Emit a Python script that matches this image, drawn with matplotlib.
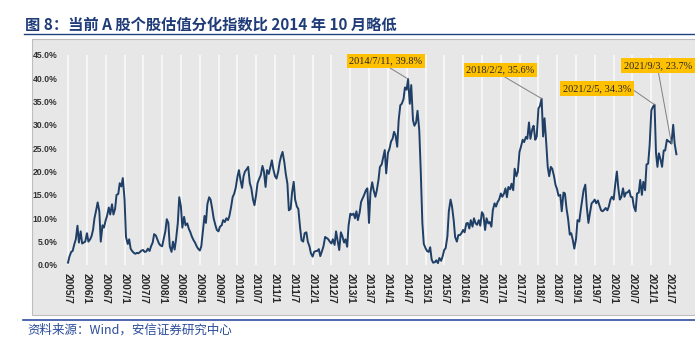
import matplotlib
matplotlib.use('Agg')
import matplotlib.pyplot as plt
from matplotlib.patches import Rectangle
from matplotlib.lines import Line2D
import numpy as np
import pandas as pd

# semi-monthly readings (1st and 15th of each month), % of stocks
v2005 = [0.5, 1.8, 2.8, 3.0, 4.5, 5.5, 8.4, 4.8, 7.2, 4.6, 4.8, 5.0]
v2006 = [6.8, 5.0, 5.5, 6.2, 7.5, 10.0, 11.8, 13.4, 11.5, 5.0, 8.5, 8.0,
         9.5, 10.5, 12.3, 10.8, 13.0, 10.8, 12.0, 15.0, 15.2, 17.5, 16.8, 18.6]
v2007 = [14.0, 6.0, 4.5, 5.5, 3.5, 3.0, 2.6, 2.4, 2.6, 2.5, 2.8, 3.1,
         3.2, 2.8, 2.9, 3.5, 3.0, 4.0, 4.8, 6.6, 6.3, 5.5, 4.6, 4.2]
v2008 = [4.0, 5.5, 7.2, 9.8, 9.0, 4.0, 2.8, 5.0, 3.3, 5.5, 9.0, 14.5,
         12.5, 8.0, 10.3, 8.5, 8.9, 7.8, 7.0, 6.1, 5.3, 4.8, 4.0, 3.5]
v2009 = [3.1, 4.0, 7.5, 10.5, 9.0, 13.0, 14.5, 14.0, 12.0, 10.0, 8.5, 7.5,
         7.2, 8.2, 8.5, 9.6, 9.2, 10.0, 9.6, 10.5, 12.5, 14.5, 15.3, 16.5]
v2010 = [18.9, 20.3, 18.0, 16.5, 19.0, 20.0, 20.5, 21.0, 17.5, 16.5, 14.0, 12.8,
         15.0, 17.5, 18.5, 19.2, 21.2, 20.0, 16.7, 20.3, 19.5, 20.8, 22.4, 20.5]
v2011 = [19.0, 18.5, 20.0, 22.0, 23.3, 24.2, 22.0, 19.5, 17.4, 11.7, 12.0, 15.5,
         17.8, 14.0, 12.5, 12.0, 8.0, 5.3, 5.0, 6.8, 7.0, 5.0, 4.0, 2.5]
v2012 = [1.8, 2.8, 3.0, 3.0, 3.4, 1.9, 3.0, 4.0, 6.0, 5.8, 5.5, 5.0,
         4.6, 5.5, 4.3, 7.2, 5.0, 3.2, 7.0, 6.2, 4.8, 5.5, 3.9, 8.5]
v2013 = [11.0, 10.7, 11.0, 10.0, 11.5, 9.6, 11.2, 13.5, 14.3, 15.0, 16.0, 16.4,
         9.0, 15.5, 17.7, 16.0, 14.6, 16.0, 18.2, 21.0, 21.5, 23.0, 24.6, 19.6]
v2014 = [24.0, 24.8, 26.5, 27.0, 28.5, 27.8, 25.3, 31.0, 34.2, 34.5, 35.5, 38.0,
         37.5, 39.8, 34.5, 38.5, 31.0, 29.8, 30.5, 33.0, 28.8, 20.3, 9.0, 4.5]
v2015 = [3.6, 3.0, 2.8, 3.8, 1.2, 0.5, 0.6, 1.0, 0.4, 1.5, 0.9, 1.8,
         3.2, 3.6, 6.1, 11.5, 14.0, 12.5, 9.6, 6.0, 5.0, 6.4, 6.4, 6.8]
v2016 = [7.5, 7.0, 8.9, 9.0, 7.8, 9.6, 8.2, 10.0, 8.9, 8.6, 9.6, 8.4,
         11.3, 10.8, 7.5, 10.0, 8.9, 9.2, 8.2, 11.7, 13.2, 12.5, 13.5, 14.0]
v2017 = [15.3, 14.6, 15.3, 16.4, 14.5, 16.7, 16.2, 17.4, 16.0, 20.6, 19.0, 20.0,
         24.2, 25.3, 26.8, 26.3, 27.4, 27.0, 30.5, 27.0, 29.0, 29.8, 26.8, 27.5]
v2018 = [33.5, 34.0, 35.6, 27.5, 31.4, 27.0, 21.0, 19.0, 21.0, 20.6, 19.0, 17.2,
         16.2, 14.8, 15.0, 11.5, 15.5, 15.3, 12.0, 10.0, 6.5, 6.8, 5.3, 3.5]
v2019 = [5.6, 9.6, 9.3, 11.7, 13.9, 16.0, 17.2, 12.5, 9.0, 11.0, 13.2, 13.5,
         14.0, 13.2, 13.8, 12.8, 11.7, 11.5, 11.8, 12.2, 11.7, 12.5, 14.0, 14.6]
v2020 = [14.0, 17.0, 20.0, 16.5, 14.0, 14.5, 16.4, 14.6, 15.5, 15.5, 16.0, 14.6,
         14.5, 12.5, 11.5, 15.3, 15.5, 18.2, 15.0, 17.8, 16.0, 21.5, 21.7, 25.5]
v2021 = [33.1, 33.8, 34.3, 24.0, 21.0, 23.9, 22.5, 21.0, 24.5, 24.5, 26.8, 26.5,
         26.3, 26.0, 30.0, 26.0, 23.7]

values = (v2005 + v2006 + v2007 + v2008 + v2009 + v2010 + v2011 + v2012 + v2013
          + v2014 + v2015 + v2016 + v2017 + v2018 + v2019 + v2020 + v2021)
dates = pd.date_range('2005-07-01', periods=len(values), freq='SMS')
series = pd.Series(values, index=dates)

tick_labels = ['2005/7', '2006/1', '2006/7', '2007/1', '2007/7', '2008/1', '2008/7',
               '2009/1', '2009/7', '2010/1', '2010/7', '2011/1', '2011/7', '2012/1',
               '2012/7', '2013/1', '2013/7', '2014/1', '2014/7', '2015/1', '2015/7',
               '2016/1', '2016/7', '2017/1', '2017/7', '2018/1', '2018/7', '2019/1',
               '2019/7', '2020/1', '2020/7', '2021/1', '2021/7']
tick_dates = pd.date_range('2005-07-01', '2021-07-01', freq='6MS')

ann_labels = ['2014/7/11, 39.8%', '2018/2/2, 35.6%', '2021/2/5, 34.3%', '2021/9/3, 23.7%']
ann_dates = ['2014-07-15', '2018-02-01', '2021-02-01', '2021-07-15']

title = '图 8：当前 A 股个股估值分化指数比 2014 年 10 月略低'
source = '资料来源：Wind，安信证券研究中心'

W, H = 695, 346
fig = plt.figure(figsize=(W / 100, H / 100), dpi=100)

# grey panel behind the chart
fig.patches.append(Rectangle((32 / W, (H - 315) / H), (W - 30) / W, (315 - 39) / H,
                             transform=fig.transFigure, facecolor='#E7E7E7',
                             edgecolor='#BDBDBD', lw=0.8, zorder=-5))
fig.add_artist(Line2D([24 / W, 1], [(H - 34.3) / H] * 2, color='#1F3F7F', lw=1.0))
fig.add_artist(Line2D([23 / W, 1], [(H - 320) / H] * 2, color='#2E4F9F', lw=1.2))

fig.text(25 / W, (H - 25) / H, title, fontsize=11, fontweight='bold', color='#1F3C78',
         family=['Noto Sans CJK SC'], va='center')
fig.text(27 / W, (H - 330) / H, source, fontsize=9, color='#2B4C9B',
         family=['Noto Sans CJK SC'], va='center')

ax = fig.add_axes([60 / W, (H - 265) / H, 620 / W, (265 - 54.7) / H])
ax.set_facecolor('none')
ax.plot(series.index, series.values, color='#1F3F66', lw=1.4, zorder=3)

ax.set_ylim(0, 45)
yt = np.arange(0, 46, 5)
ax.set_yticks(yt)
ax.set_yticklabels([f'{v:.1f}%' for v in yt], fontsize=6.2, family='Liberation Sans',
                   fontweight='bold', color='#333333')

ax.set_xticks(tick_dates)
ax.set_xticklabels(tick_labels, rotation=270, fontsize=7.2, family='Liberation Sans',
                   fontweight='bold', color='#262626', ha='center', va='top')
px_day = 602 / (pd.Timestamp('2021-07-01') - pd.Timestamp('2005-07-01')).days
ax.set_xlim(pd.Timestamp('2005-07-01') - pd.Timedelta(days=8 / px_day),
            pd.Timestamp('2021-07-01') + pd.Timedelta(days=10 / px_day))

ax.grid(axis='x', color='#F8F8F8', lw=1.3, zorder=1)
ax.tick_params(axis='x', length=0, pad=6)
ax.tick_params(axis='y', length=0, pad=2)
for s in ax.spines.values():
    s.set_visible(False)

# yellow callouts
box_xy = [(386, 61), (500.5, 70), (597, 88.5), (658, 65.5)]
rel = [(0.5, 0), (0.5, 0), (1, 0.5), (0.5, 0)]
for lab, d, (bx, by), rp in zip(ann_labels, ann_dates, box_xy, rel):
    t = pd.Timestamp(d)
    ax.annotate(lab, xy=(t, series[t]), xytext=(bx, H - by), textcoords='figure pixels',
                ha='center', va='center', fontsize=7.4, family='Liberation Serif',
                color='#262626', zorder=5,
                bbox=dict(boxstyle='square,pad=0.25', fc='#FFC000', ec='none'),
                arrowprops=dict(arrowstyle='-', color='#808080', lw=0.7, relpos=rp,
                                shrinkA=0, shrinkB=0))

fig.savefig('out.png', dpi=100)
